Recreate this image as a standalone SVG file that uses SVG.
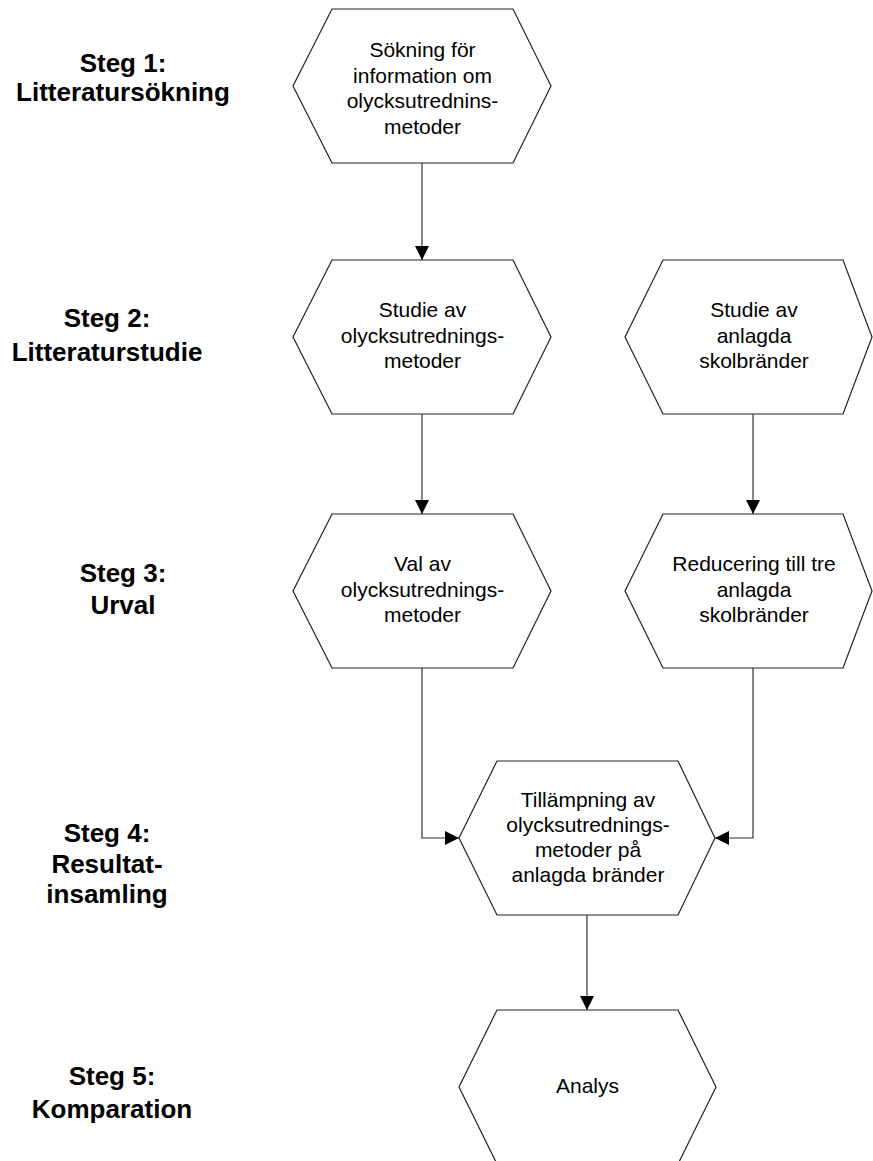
<svg xmlns="http://www.w3.org/2000/svg" width="873" height="1161" viewBox="0 0 873 1161">
  <defs>
    <marker id="arrow" viewBox="0 0 14 14" refX="14" refY="7" markerWidth="14" markerHeight="14" markerUnits="userSpaceOnUse" orient="auto">
      <path d="M0,0 L14,7 L0,14 Z" fill="#000"/>
    </marker>
    <style>
      .hex { fill: #fff; stroke: #222; stroke-width: 1.2; }
      .txt { font-family: "Liberation Sans", Arial, sans-serif; font-size: 21px; fill: #000; text-anchor: middle; }
      .lbl { font-family: "Liberation Sans", Arial, sans-serif; font-size: 26px; font-weight: bold; fill: #000; text-anchor: middle; }
      .conn { fill: none; stroke: #333; stroke-width: 1.2; marker-end: url(#arrow); }
    </style>
  </defs>
  <rect width="873" height="1161" fill="#fff"/>

  <!-- step labels -->
  <g id="labels">
    <text class="lbl" x="123" y="72">Steg 1:</text>
    <text class="lbl" x="123" y="101">Litteratursökning</text>
    <text class="lbl" x="107" y="327">Steg 2:</text>
    <text class="lbl" x="107" y="361">Litteraturstudie</text>
    <text class="lbl" x="123" y="582">Steg 3:</text>
    <text class="lbl" x="123" y="614">Urval</text>
    <text class="lbl" x="107" y="842">Steg 4:</text>
    <text class="lbl" x="107" y="873">Resultat-</text>
    <text class="lbl" x="107" y="903">insamling</text>
    <text class="lbl" x="112" y="1085">Steg 5:</text>
    <text class="lbl" x="112" y="1118">Komparation</text>
  </g>

  <!-- connectors -->
  <g id="connectors">
    <path class="conn" d="M422,163 L422,260"/>
    <path class="conn" d="M422,414 L422,514"/>
    <path class="conn" d="M753,414 L753,514"/>
    <path class="conn" d="M422,668 L422,838 L459,838"/>
    <path class="conn" d="M753,668 L753,838 L715,838"/>
    <path class="conn" d="M587,915 L587,1010"/>
  </g>

  <g id="n1">
    <polygon class="hex" points="332,9 513,9 551,86 513,163 332,163 293,86"/>
    <text class="txt" x="422.5" y="57">Sökning för</text>
    <text class="txt" x="422.5" y="82.5">information om</text>
    <text class="txt" x="422.5" y="108">olycksutrednins-</text>
    <text class="txt" x="422.5" y="133.5">metoder</text>
  </g>

  <g id="n2a">
    <polygon class="hex" points="332,260 513,260 551,337 513,414 332,414 293,337"/>
    <text class="txt" x="422.5" y="317">Studie av</text>
    <text class="txt" x="422.5" y="342.5">olycksutrednings-</text>
    <text class="txt" x="422.5" y="368">metoder</text>
  </g>

  <g id="n2b">
    <polygon class="hex" points="663,260 843,260 872,337 843,414 663,414 625,337"/>
    <text class="txt" x="754" y="317">Studie av</text>
    <text class="txt" x="754" y="342.5">anlagda</text>
    <text class="txt" x="754" y="368">skolbränder</text>
  </g>

  <g id="n3a">
    <polygon class="hex" points="332,514 513,514 551,591 513,668 332,668 293,591"/>
    <text class="txt" x="422.5" y="571">Val av</text>
    <text class="txt" x="422.5" y="596.5">olycksutrednings-</text>
    <text class="txt" x="422.5" y="622">metoder</text>
  </g>

  <g id="n3b">
    <polygon class="hex" points="663,514 843,514 872,591 843,668 663,668 625,591"/>
    <text class="txt" x="754" y="571">Reducering till tre</text>
    <text class="txt" x="754" y="596.5">anlagda</text>
    <text class="txt" x="754" y="622">skolbränder</text>
  </g>

  <g id="n4">
    <polygon class="hex" points="497,761 678,761 715,838 678,915 497,915 459,838"/>
    <text class="txt" x="588" y="807">Tillämpning av</text>
    <text class="txt" x="588" y="832">olycksutrednings-</text>
    <text class="txt" x="588" y="857">metoder på</text>
    <text class="txt" x="588" y="882">anlagda bränder</text>
  </g>

  <g id="n5">
    <polygon class="hex" points="497,1010 678,1010 716,1087 678,1164 497,1164 459,1087"/>
    <text class="txt" x="587.5" y="1093">Analys</text>
  </g>
</svg>
